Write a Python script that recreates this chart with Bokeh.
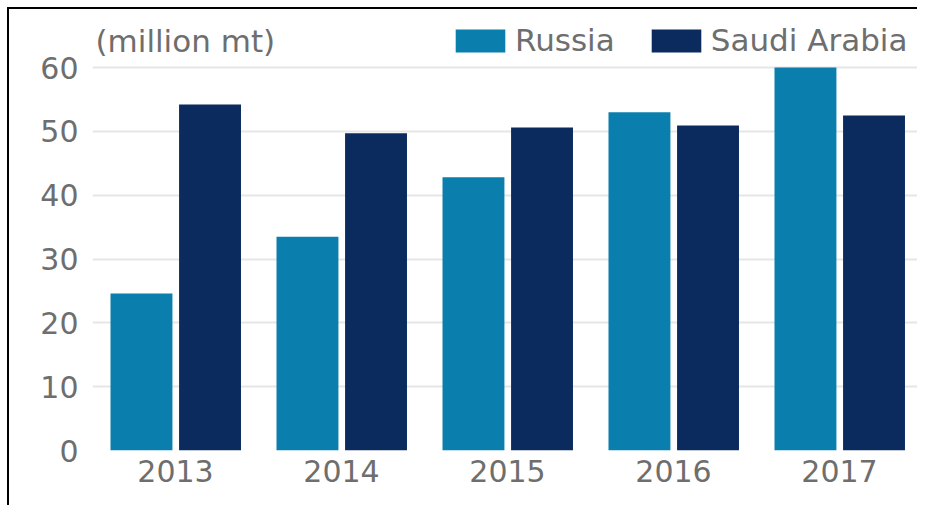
from bokeh.plotting import figure
from bokeh.models import ColumnDataSource, Range1d, FixedTicker, Legend, LegendItem, Label
from bokeh.transform import dodge
from bokeh.embed import file_html
from bokeh.resources import INLINE

years = ["2013", "2014", "2015", "2016", "2017"]
russia = [24.6, 33.5, 42.8, 53.0, 60.0]
saudi = [54.2, 49.7, 50.6, 50.9, 52.5]
y_ticks = [0, 10, 20, 30, 40, 50, 60]
unit_label = "(million mt)"

FONT = "DejaVu Sans"
GREY = "#6e6e6e"
C_RU = "#0a7fad"
C_SA = "#0b2b5e"

idx = list(range(len(years)))
src = ColumnDataSource(dict(idx=idx, year=years, russia=russia, saudi=saudi))

p = figure(width=910, height=498, output_backend="svg", toolbar_location=None,
           x_range=Range1d(-0.5, 4.482), y_range=Range1d(0, 68.93),
           min_border_left=83, min_border_right=0, min_border_top=1, min_border_bottom=57)
p.styles = {"border-top": "2px solid black", "border-left": "2px solid black",
            "margin-top": "7px", "margin-left": "7px"}
p.outline_line_color = None
p.background_fill_color = "white"
p.border_fill_color = "white"

r1 = p.vbar(x=dodge("idx", -0.205, range=p.x_range), top="russia", width=0.373,
            source=src, fill_color=C_RU, line_color=None)
r2 = p.vbar(x=dodge("idx", 0.208, range=p.x_range), top="saudi", width=0.373,
            source=src, fill_color=C_SA, line_color=None)

p.xgrid.grid_line_color = None
p.ygrid.grid_line_color = "#e6e6e6"
p.ygrid.grid_line_width = 2
p.yaxis.ticker = FixedTicker(ticks=y_ticks)
p.xaxis.ticker = FixedTicker(ticks=idx)
p.xaxis.major_label_overrides = {i: y for i, y in zip(idx, years)}

for ax in (p.xaxis[0], p.yaxis[0]):
    ax.axis_line_color = None
    ax.major_tick_line_color = None
    ax.minor_tick_line_color = None
    ax.major_label_text_font = FONT
    ax.major_label_text_font_size = "30px"
    ax.major_label_text_color = GREY
p.yaxis.major_label_standoff = 8
p.xaxis.major_label_standoff = 3

p.add_layout(Label(x=-0.482, y=64.1, text=unit_label, text_font=FONT,
                   text_font_size="31px", text_color=GREY, text_baseline="middle"))

legend = Legend(items=[LegendItem(label="Russia", renderers=[r1]),
                       LegendItem(label="Saudi Arabia", renderers=[r2])],
                orientation="horizontal", location=(357, 392),
                glyph_width=62, glyph_height=29, label_standoff=4, spacing=30,
                padding=0, margin=0, border_line_color=None, background_fill_alpha=0,
                label_text_font=FONT, label_text_font_size="31px", label_text_color=GREY)
p.add_layout(legend)

open("out.html", "w").write(file_html(p, INLINE))
